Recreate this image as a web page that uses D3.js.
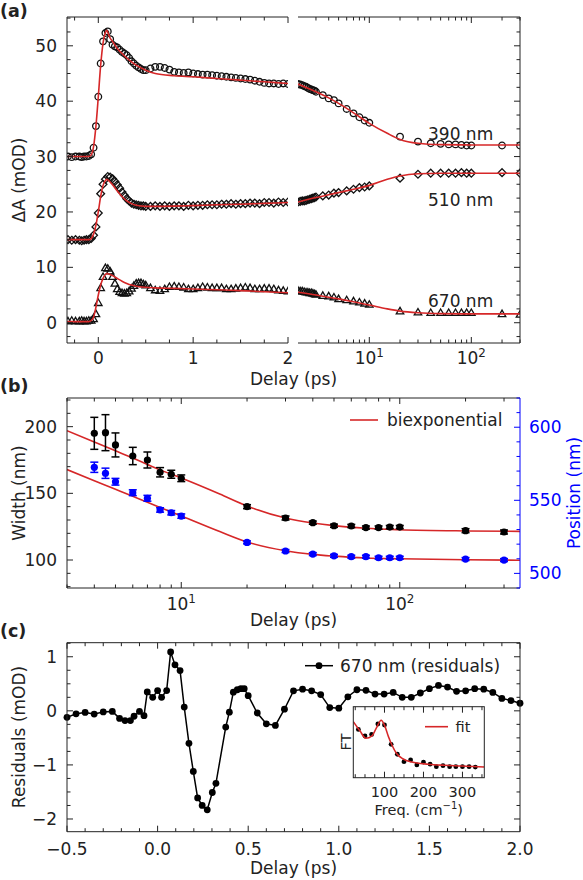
<!DOCTYPE html>
<html><head><meta charset="utf-8">
<script src="https://cdn.jsdelivr.net/npm/d3@7"></script>
<style>body{margin:0;background:#fff}svg{display:block}text{font-family:"DejaVu Sans",sans-serif}</style>
</head><body><svg id="c" width="583" height="880"></svg>
<script>
// ---------- Panel (a): linear part ----------
const tA = [-0.32,-0.28,-0.24,-0.2,-0.175,-0.15,-0.125,-0.1,-0.075,-0.05,-0.025,0,0.025,0.05,0.075,0.1,0.125,0.15,0.175,0.2,0.225,0.25,0.275,0.3,0.325,0.35,0.375,0.4,0.425,0.45,0.475,0.5,0.55,0.6,0.65,0.7,0.75,0.8,0.85,0.9,0.95,1.0,1.05,1.1,1.15,1.2,1.25,1.3,1.35,1.4,1.45,1.5,1.55,1.6,1.65,1.7,1.75,1.8,1.85,1.9,1.95,2.0];
const a390 = [30.0,29.9,30.0,30.0,29.9,30.0,30.0,30.1,30.4,31.6,35.5,40.8,46.8,50.8,52.3,52.6,51.2,50.2,49.9,49.7,49.3,48.9,48.6,48.3,47.8,47.2,46.8,46.4,46.1,45.8,45.6,45.6,45.9,46.2,46.2,46.0,45.7,45.3,45.2,45.1,45.2,45.0,44.9,44.8,44.8,44.7,44.6,44.5,44.4,44.3,44.2,44.1,44.0,43.9,43.7,43.5,43.3,43.2,43.2,43.1,43.2,43.1];
const a510 = [15.0,14.9,15.0,14.9,14.8,14.9,15.0,15.0,15.2,15.8,17.3,19.8,23.3,25.0,25.9,26.4,26.3,26.0,25.5,24.9,24.3,23.6,23.0,22.4,22.0,21.6,21.4,21.3,21.2,21.1,21.1,21.0,21.0,21.1,21.0,21.1,21.0,21.1,21.1,21.0,21.2,21.1,21.2,21.2,21.3,21.3,21.3,21.4,21.4,21.5,21.4,21.5,21.5,21.6,21.6,21.5,21.7,21.7,21.6,21.8,21.7,21.8];
const a670 = [0.2,0.3,0.2,0.2,0.3,0.2,0.2,0.3,0.3,0.6,1.5,3.5,6.2,8.2,9.8,9.7,9.2,8.2,7.0,6.0,5.5,5.3,5.2,5.3,5.6,6.1,6.6,7.0,7.1,7.1,6.9,6.7,6.2,5.8,5.7,6.0,6.4,6.5,6.4,6.3,6.0,6.0,6.2,6.4,6.3,6.2,6.2,6.2,6.0,6.0,6.1,6.2,6.3,6.2,6.0,6.0,6.1,6.1,6.0,5.8,5.7,5.6];
const fitTA = [-0.33,-0.1,-0.075,-0.05,-0.025,0,0.025,0.05,0.075,0.09,0.1,0.125,0.15,0.2,0.25,0.3,0.35,0.4,0.5,0.6,0.8,1.0,1.25,1.5,1.75,2.0];
const fit390A = [30,30,30.3,31.8,35.5,40.8,46.5,50.5,52.4,52.8,52.4,51.4,50.8,49.5,48.6,47.8,47.1,46.5,45.6,45.0,44.6,44.4,44.1,43.8,43.5,43.2];
const fit510A = [15,15,15.2,16,17.6,20,22.8,24.8,25.7,25.9,25.8,25.4,24.9,23.8,22.8,22.0,21.5,21.2,21.0,21.0,21.05,21.15,21.3,21.4,21.55,21.7];
const fit670A = [0.2,0.2,0.4,1.0,2.8,5.0,6.8,8.0,8.7,8.9,8.85,8.7,8.5,8.0,7.5,7.1,6.8,6.6,6.4,6.3,6.2,6.1,5.95,5.8,5.6,5.4];
// ---------- Panel (a): log part ----------
const tB = [2.0,2.1,2.2,2.3,2.4,2.5,2.6,2.7,2.8,2.9,3.0,3.5,4,4.5,5,6,7,8,9,10,20,30,40,50,60,70,80,90,100,200,300];
const b390 = [43.1,43.0,42.9,42.7,42.6,42.4,42.2,42.1,42.0,41.9,41.7,41.1,40.5,40.2,39.6,38.6,37.8,37.1,36.5,36.1,33.6,32.7,32.4,32.3,32.2,32.2,32.1,32.0,32.0,32.0,32.0];
const b510 = [21.8,21.9,22.0,22.0,22.1,22.2,22.3,22.4,22.5,22.6,22.7,22.9,23.05,23.4,23.5,23.8,24.1,24.4,24.5,24.7,26.1,26.8,27.0,27.0,27.0,27.0,27.1,27.0,27.0,27.1,27.0];
const b670 = [5.7,5.6,5.6,5.5,5.4,5.4,5.3,5.3,5.2,5.1,5.0,4.8,4.7,4.5,4.2,4.0,3.8,3.6,3.4,3.2,2.0,1.8,1.7,1.7,1.7,1.7,1.7,1.7,1.7,1.5,1.4];
const fitTB = [2,3,4,5,7,10,15,20,30,50,100,300];
const fit390B = [43.1,41.7,40.6,39.6,37.9,36.0,34.2,33.1,32.4,32.15,32.1,32.1];
const fit510B = [21.8,22.6,23.1,23.5,24.1,24.8,25.9,26.5,26.9,27.0,27.0,27.0];
const fit670B = [5.5,5.0,4.6,4.3,3.8,3.2,2.5,2.1,1.8,1.65,1.6,1.6];
const traceLabels = ["390 nm","510 nm","670 nm"];
const traceLabelY = [34.1, 22.2, 3.9];
// ---------- Panel (b) ----------
const delayW = [4,4.5,5,6,7,8,9,10,20,30,40,50,60,70,80,90,100,200,300];
const width = [195,195.5,186.3,178,175,165.8,164.3,161.3,140,131.5,128,125.7,125.5,124.3,124.3,124.7,124.7,122,121];
const widthErr = [12,13.5,9,6.5,6,3.5,3,2.5,1.5,1.5,1.2,1.2,1.2,1.2,1.2,1.2,1.2,1.5,1.5];
const position = [572.6,568.5,562.7,555.2,551.4,543.4,541.5,539.2,521.2,515.3,513.2,512,511.4,511.4,510.7,510.7,510.7,509.8,509.1];
const positionErr = [3.5,3.5,2.3,2,2,1.5,1.5,1.5,1,1,1,1,1,1,1,1,1,1,1];
const fitTW = [3,4,5,6,7,8,10,15,20,30,40,50,70,100,200,355];
const fitWidth = [197,188.5,181.9,176.5,171.7,167.6,161.5,149.5,140.5,131.5,127.8,125.8,123.8,122.7,121.8,121.5];
const fitPos = [571,563.4,557.5,552.7,548.7,545.1,539.3,528.6,521.5,515.5,513,511.8,510.5,510,509.3,509];
// ---------- Panel (c) ----------
const tC = [-0.5,-0.45,-0.4,-0.35,-0.3,-0.25,-0.21,-0.18,-0.15,-0.13,-0.10,-0.075,-0.057,-0.027,0.0,0.022,0.05,0.072,0.096,0.124,0.147,0.173,0.197,0.221,0.246,0.274,0.302,0.322,0.376,0.396,0.418,0.44,0.46,0.478,0.50,0.55,0.60,0.65,0.70,0.75,0.80,0.85,0.90,0.95,1.0,1.05,1.10,1.15,1.20,1.25,1.30,1.35,1.40,1.45,1.50,1.55,1.60,1.65,1.70,1.75,1.80,1.85,1.90,1.95,2.0];
const resid = [-0.12,-0.055,-0.03,-0.06,-0.02,-0.01,-0.14,-0.18,-0.18,-0.1,-0.01,-0.09,0.35,0.25,0.375,0.25,0.375,1.09,0.85,0.745,0.07,-0.6,-1.12,-1.61,-1.75,-1.83,-1.51,-1.34,-0.3,-0.025,0.345,0.39,0.41,0.41,0.28,-0.04,-0.24,-0.27,0.03,0.37,0.40,0.37,0.30,0.06,0.05,0.26,0.39,0.38,0.31,0.31,0.34,0.25,0.25,0.33,0.41,0.47,0.44,0.36,0.37,0.41,0.40,0.34,0.23,0.19,0.14];
// ---------- Inset ----------
const freq = [33,50,67,83,100,117,133,150,167,183,200,217,233,250,267,283,300,317,333];
const ft = [0.68,0.587,0.61,0.756,0.742,0.47,0.33,0.225,0.25,0.18,0.22,0.19,0.155,0.17,0.155,0.155,0.155,0.155,0.15];
const fitFreq = [20,37,52,68,80,91.5,100,110,119,131,148,170,212,255,298,356];
const fitFT = [0.79,0.66,0.555,0.59,0.71,0.81,0.74,0.58,0.46,0.34,0.263,0.22,0.19,0.175,0.165,0.15];

// ================= drawing =================
const INK = '#222', RED = '#d62728', BLUE = '#0000ff';
const svg = d3.select('#c');
const defs = svg.append('defs');
function clip(id,x,y,w,h){defs.append('clipPath').attr('id',id).append('rect').attr('x',x).attr('y',y).attr('width',w).attr('height',h);}
function ln(g,x1,y1,x2,y2,c,w){g.append('line').attr('x1',x1).attr('y1',y1).attr('x2',x2).attr('y2',y2).attr('stroke',c||INK).attr('stroke-width',w||1);}
function txt(g,x,y,s,o){o=o||{};const t=g.append('text').attr('x',x).attr('y',y).attr('text-anchor',o.anchor||'middle').attr('fill',o.color||INK).style('font-size',(o.size||17)+'px').text(s);if(o.weight)t.style('font-weight',o.weight);return t;}
function rtxt(g,x,y,s,o){o=o||{};return g.append('text').attr('transform',`translate(${x},${y}) rotate(-90)`).attr('text-anchor','middle').attr('fill',o.color||INK).style('font-size',(o.size||17)+'px').text(s);}
function pow(g,x,y,e,size){size=size||17;const t=g.append('text').attr('x',x).attr('y',y).attr('text-anchor','middle').attr('fill',INK).style('font-size',size+'px');t.append('tspan').text('10');t.append('tspan').attr('dy',-size*0.42).style('font-size',(size*0.7)+'px').text(e);return t;}
function hTicks(g,sc,yb,yt,maj,min,c){const M=6,m=3.5;maj.forEach(v=>{const x=sc(v);if(yb!=null)ln(g,x,yb,x,yb-M,c);if(yt!=null)ln(g,x,yt,x,yt+M,c);});min.forEach(v=>{const x=sc(v);if(yb!=null)ln(g,x,yb,x,yb-m,c);if(yt!=null)ln(g,x,yt,x,yt+m,c);});}
function vTicks(g,sc,xl,xr,maj,min,c){const M=6,m=3.5;maj.forEach(v=>{const y=sc(v);if(xl!=null)ln(g,xl,y,xl+M,y,c);if(xr!=null)ln(g,xr,y,xr-M,y,c);});min.forEach(v=>{const y=sc(v);if(xl!=null)ln(g,xl,y,xl+m,y,c);if(xr!=null)ln(g,xr,y,xr-m,y,c);});}
function rng(a,b,s){const r=[];for(let v=a;v<=b+1e-9;v+=s)r.push(+v.toFixed(6));return r;}
const logMinors=(lo,hi)=>{const r=[];[1,10,100,1000].forEach(d=>{for(let k=2;k<=9;k++){const v=k*d;if(v>=lo&&v<=hi)r.push(v);}});return r;};
const circlePath=r=>`M${r},0A${r},${r} 0 1,1 ${-r},0A${r},${r} 0 1,1 ${r},0Z`;
const diamondPath=r=>`M0,${-r}L${r},0L0,${r}L${-r},0Z`;
const triPath=r=>`M0,${-r}L${r*0.87},${r*0.5}L${-r*0.87},${r*0.5}Z`;
const zip=(xs,ys)=>xs.map((x,i)=>[x,ys[i]]).filter(d=>d[1]!=null);

// ---- Panel (a) ----
const L=67,R=520;
const aTop=17,aBot=343;
const xA1=d3.scaleLinear().domain([-0.33,2]).range([L,288]);
const xA2=d3.scaleLog().domain([2,300]).range([298,R]);
const yA=d3.scaleLinear().domain([-3.66,55.2]).range([aBot,aTop]);
clip('ca1',L,aTop,288-L,aBot-aTop);clip('ca2',298,aTop,R-298,aBot-aTop);
const gA=svg.append('g');
const markers=[circlePath(3.3),diamondPath(3.9),triPath(4.3)];
const dA=[a390,a510,a670], dB=[b390,b510,b670], fA=[fit390A,fit510A,fit670A], fB=[fit390B,fit510B,fit670B];
const gA1=gA.append('g').attr('clip-path','url(#ca1)');
const gA2=gA.append('g').attr('clip-path','url(#ca2)');
dA.forEach((vals,k)=>{gA1.selectAll(null).data(zip(tA,vals)).enter().append('path').attr('d',markers[k]).attr('transform',d=>`translate(${xA1(d[0])},${yA(d[1])})`).attr('fill','none').attr('stroke','#111').attr('stroke-width',1.3);});
dB.forEach((vals,k)=>{gA2.selectAll(null).data(zip(tB,vals)).enter().append('path').attr('d',markers[k]).attr('transform',d=>`translate(${xA2(d[0])},${yA(d[1])})`).attr('fill','none').attr('stroke','#111').attr('stroke-width',1.3);});
const lA1=d3.line().x(d=>xA1(d[0])).y(d=>yA(d[1])).curve(d3.curveMonotoneX);
const lA2=d3.line().x(d=>xA2(d[0])).y(d=>yA(d[1])).curve(d3.curveMonotoneX);
fA.forEach(v=>gA1.append('path').attr('d',lA1(zip(fitTA,v))).attr('fill','none').attr('stroke',RED).attr('stroke-width',1.6));
fB.forEach(v=>gA2.append('path').attr('d',lA2(zip(fitTB,v))).attr('fill','none').attr('stroke',RED).attr('stroke-width',1.6));
// spines
ln(gA,L,aTop,L,aBot);ln(gA,L,aTop,288,aTop);ln(gA,L,aBot,288,aBot);
ln(gA,R,aTop,R,aBot);ln(gA,298,aTop,R,aTop);ln(gA,298,aBot,R,aBot);
const yMajA=[0,10,20,30,40,50], yMinA=rng(-2.5,55,2.5).filter(v=>v%10!==0);
vTicks(gA,yA,L,null,yMajA,yMinA);vTicks(gA,yA,null,R,yMajA,yMinA);
hTicks(gA,xA1,aBot,aTop,[0,1,2],[-0.25,0.25,0.5,0.75,1.25,1.5,1.75]);
hTicks(gA,xA2,aBot,aTop,[10,100],logMinors(3,300));
yMajA.forEach(v=>txt(gA,57,yA(v)+6,String(v),{anchor:'end'}));
[0,1,2].forEach(v=>txt(gA,xA1(v),363.5,String(v)));
pow(gA,xA2(10),364,'1');pow(gA,xA2(100),364,'2');
txt(gA,293.5,384.5,'Delay (ps)');
rtxt(gA,25,180,'ΔA (mOD)');
traceLabels.forEach((s,i)=>txt(gA,428,yA(traceLabelY[i])+6,s,{anchor:'start'}));
txt(gA,0,17,'(a)',{anchor:'start',size:17.5,weight:'bold'});

// ---- Panel (b) ----
const bTop=398,bBot=588;
const xBs=d3.scaleLog().domain([3,355]).range([L,R]);
const yBl=d3.scaleLinear().domain([79,221.5]).range([bBot,bTop]);
const yBr=d3.scaleLinear().domain([490,620]).range([bBot,bTop]);
clip('cb',L,bTop,R-L,bBot-bTop);
const gB=svg.append('g');
const gBc=gB.append('g').attr('clip-path','url(#cb)');
const lBl=d3.line().x(d=>xBs(d[0])).y(d=>yBl(d[1])).curve(d3.curveMonotoneX);
const lBr=d3.line().x(d=>xBs(d[0])).y(d=>yBr(d[1])).curve(d3.curveMonotoneX);
gBc.append('path').attr('d',lBl(zip(fitTW,fitWidth))).attr('fill','none').attr('stroke',RED).attr('stroke-width',1.6);
gBc.append('path').attr('d',lBr(zip(fitTW,fitPos))).attr('fill','none').attr('stroke',RED).attr('stroke-width',1.6);
function errPts(g,xs,vs,es,ys,c){xs.forEach((t,i)=>{const x=xBs(t),y1=ys(vs[i]-es[i]),y2=ys(vs[i]+es[i]);ln(g,x,y1,x,y2,c,1.5);ln(g,x-4,y1,x+4,y1,c,1.5);ln(g,x-4,y2,x+4,y2,c,1.5);g.append('circle').attr('cx',x).attr('cy',ys(vs[i])).attr('r',3.6).attr('fill',c);});}
errPts(gBc,delayW,width,widthErr,yBl,'#000');
errPts(gBc,delayW,position,positionErr,yBr,BLUE);
ln(gB,L,bTop,L,bBot);ln(gB,L,bTop,R,bTop);ln(gB,L,bBot,R,bBot);ln(gB,R,bTop,R,bBot,BLUE);
hTicks(gB,xBs,bBot,bTop,[10,100],logMinors(3,355));
vTicks(gB,yBl,L,null,[100,150,200],rng(80,220,10).filter(v=>v%50!==0));
vTicks(gB,yBr,null,R,[500,550,600],rng(490,620,10).filter(v=>v%50!==0),BLUE);
[100,150,200].forEach(v=>txt(gB,57,yBl(v)+6,String(v),{anchor:'end'}));
[500,550,600].forEach(v=>txt(gB,529,yBr(v)+6,String(v),{anchor:'start',color:BLUE}));
pow(gB,xBs(10),610,'1');pow(gB,xBs(100),610,'2');
txt(gB,293.5,626,'Delay (ps)');
rtxt(gB,25,493,'Width (nm)');
rtxt(gB,580,493,'Position (nm)',{color:BLUE});
ln(gB,350,420,378,420,RED,1.6);
txt(gB,387,426,'biexponential',{anchor:'start'});
txt(gB,0,392,'(b)',{anchor:'start',size:17.5,weight:'bold'});

// ---- Panel (c) ----
const cTop=642.7,cBot=831.7;
const xC=d3.scaleLinear().domain([-0.5,2]).range([L,R]);
const yC=d3.scaleLinear().domain([-2.235,1.26]).range([cBot,cTop]);
clip('cc',L-5,cTop,R-L+10,cBot-cTop);
const gC=svg.append('g');
const gCc=gC.append('g').attr('clip-path','url(#cc)');
const rd=zip(tC,resid);
gCc.append('path').attr('d',d3.line().x(d=>xC(d[0])).y(d=>yC(d[1]))(rd)).attr('fill','none').attr('stroke','#000').attr('stroke-width',1.5);
gCc.selectAll(null).data(rd).enter().append('circle').attr('cx',d=>xC(d[0])).attr('cy',d=>yC(d[1])).attr('r',3.4).attr('fill','#000');
ln(gC,L,cTop,L,cBot);ln(gC,R,cTop,R,cBot);ln(gC,L,cTop,R,cTop);ln(gC,L,cBot,R,cBot);
const xMajC=[-0.5,0,0.5,1,1.5,2];
hTicks(gC,xC,cBot,cTop,xMajC,rng(-0.4,1.9,0.1).filter(v=>Math.abs(v*2-Math.round(v*2))>1e-6));
vTicks(gC,yC,L,R,[-2,-1,0,1],[-1.75,-1.5,-1.25,-0.75,-0.5,-0.25,0.25,0.5,0.75,1.25]);
const fmtC=v=>(v<0?'\u2212':'')+Math.abs(v).toFixed(1);
xMajC.forEach(v=>txt(gC,xC(v),855,fmtC(v)));
[-2,-1,0,1].forEach(v=>txt(gC,57,yC(v)+6,(v<0?'\u2212':'')+Math.abs(v),{anchor:'end'}));
txt(gC,293.5,874,'Delay (ps)');
rtxt(gC,25,737,'Residuals (mOD)');
ln(gC,305,665.7,333,665.7,'#000',1.5);gC.append('circle').attr('cx',319).attr('cy',665.7).attr('r',3.4).attr('fill','#000');
txt(gC,340,671.5,'670 nm (residuals)',{anchor:'start'});
txt(gC,0,637,'(c)',{anchor:'start',size:17.5,weight:'bold'});

// ---- Inset ----
const iL=353.3,iR=484.3,iT=706.7,iB=777.7;
const xI=d3.scaleLinear().domain([20,356]).range([iL,iR]);
const yI=d3.scaleLinear().domain([0,1]).range([iB,iT]);
const gI=svg.append('g');
gI.append('rect').attr('x',iL).attr('y',iT).attr('width',iR-iL).attr('height',iB-iT).attr('fill','#fff');
clip('ci',iL,iT,iR-iL,iB-iT);
const gIc=gI.append('g').attr('clip-path','url(#ci)');
gIc.selectAll(null).data(zip(freq,ft)).enter().append('circle').attr('cx',d=>xI(d[0])).attr('cy',d=>yI(d[1])).attr('r',2.4).attr('fill','#000');
gIc.append('path').attr('d',d3.line().x(d=>xI(d[0])).y(d=>yI(d[1])).curve(d3.curveMonotoneX)(zip(fitFreq,fitFT))).attr('fill','none').attr('stroke',RED).attr('stroke-width',1.6);
gI.append('rect').attr('x',iL).attr('y',iT).attr('width',iR-iL).attr('height',iB-iT).attr('fill','none').attr('stroke',INK).attr('stroke-width',1);
hTicks(gI,xI,iB,iT,[100,200,300],[25,50,75,125,150,175,225,250,275,325,350]);
[100,200,300].forEach(v=>txt(gI,xI(v),797,String(v),{size:14.5}));
const fl=gI.append('text').attr('x',(iL+iR)/2).attr('y',814.5).attr('text-anchor','middle').attr('fill',INK).style('font-size','14.5px');
fl.append('tspan').text('Freq. (cm');fl.append('tspan').attr('dy',-6).style('font-size','10px').text('\u22121');fl.append('tspan').attr('dy',6).text(')');
rtxt(gI,351,742,'FT',{size:14.5});
ln(gI,425,726.7,448,726.7,RED,1.6);
txt(gI,455.5,732,'fit',{anchor:'start',size:14.5});
</script></body></html>
